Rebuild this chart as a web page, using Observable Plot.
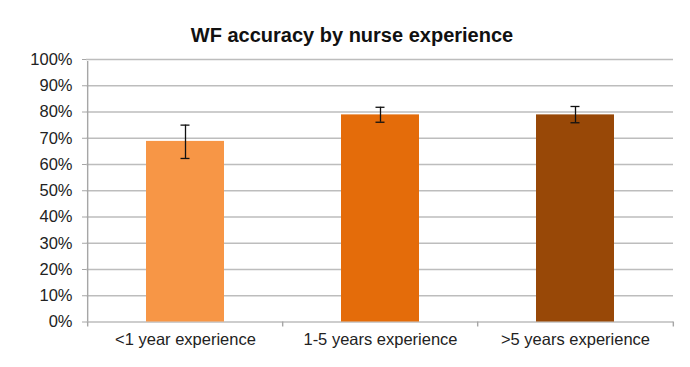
<!DOCTYPE html>
<html>
<head>
<meta charset="utf-8">
<script src="https://cdn.jsdelivr.net/npm/d3@7"></script>
<script src="https://cdn.jsdelivr.net/npm/@observablehq/plot@0.6"></script>
<style>
  html, body { margin: 0; padding: 0; background: #fff; }
</style>
</head>
<body>
<div id="chart"></div>
<script>
const title = "WF accuracy by nurse experience";
const categories = ["<1 year experience", "1-5 years experience", ">5 years experience"];
const accuracy = [0.688, 0.789, 0.789];
const errLow = [0.623, 0.761, 0.759];
const errHigh = [0.750, 0.818, 0.821];
const colors = ["#F79646", "#E46C0A", "#984807"];
const yTicks = [0, 0.1, 0.2, 0.3, 0.4, 0.5, 0.6, 0.7, 0.8, 0.9, 1.0];

const data = categories.map((c, i) => ({cat: c, v: accuracy[i], lo: errLow[i], hi: errHigh[i], color: colors[i]}));

const W = 690, H = 367;
const mL = 86, mR = 17, mT = 59, mB = 45.5;
const step = (W - mL - mR) / categories.length;

const chart = Plot.plot({
  width: W,
  height: H,
  marginLeft: mL,
  marginRight: mR,
  marginTop: mT,
  marginBottom: mB,
  style: {fontFamily: "'Liberation Sans', Arial, sans-serif", fontSize: "16.5px", background: "#fff", color: "#222"},
  x: {domain: categories, paddingInner: 0.6, paddingOuter: 0.3, label: null},
  y: {domain: [0, 1], label: null},
  marks: [
    Plot.ruleY(yTicks, {y: d => d, stroke: "#bdbdbd", strokeWidth: 1.4}),
    Plot.barY(data, {x: "cat", y: "v", fill: "color"}),
    Plot.ruleX(data, {x: "cat", y1: "lo", y2: "hi", stroke: "#111", strokeWidth: 1.3}),
    Plot.tickY(data, {x: "cat", y: "lo", stroke: "#111", strokeWidth: 1.3, insetLeft: 34.5, insetRight: 34.5}),
    Plot.tickY(data, {x: "cat", y: "hi", stroke: "#111", strokeWidth: 1.3, insetLeft: 34.5, insetRight: 34.5}),
    // y axis line
    Plot.ruleX([categories[0]], {x: d => d, dx: -step / 2, y1: 0, y2: 1, stroke: "#a6a6a6", strokeWidth: 1.4, insetBottom: -2}),
    // category boundary ticks on x axis
    Plot.ruleX(categories, {x: d => d, dx: -step / 2, y1: 0, y2: 0, insetBottom: -5, stroke: "#a6a6a6", strokeWidth: 1.4}),
    Plot.ruleX([categories[categories.length - 1]], {x: d => d, dx: step / 2, y1: 0, y2: 0, insetBottom: -5, stroke: "#a6a6a6", strokeWidth: 1.4}),
    Plot.axisY({ticks: yTicks, tickFormat: d3.format(".0%"), tickSize: 4, tickPadding: 10, stroke: "#a6a6a6", fill: "#222", fontSize: 16.5, label: null}),
    Plot.axisX({tickSize: 0, tickPadding: 11, fill: "#222", fontSize: 16.5, label: null}),
    Plot.text([title], {text: d => d, frameAnchor: "top", lineAnchor: "bottom", dy: -18, dx: -28, fontSize: 20, fontWeight: "bold", fill: "#111"})
  ]
});

document.getElementById("chart").appendChild(chart);
</script>
</body>
</html>
